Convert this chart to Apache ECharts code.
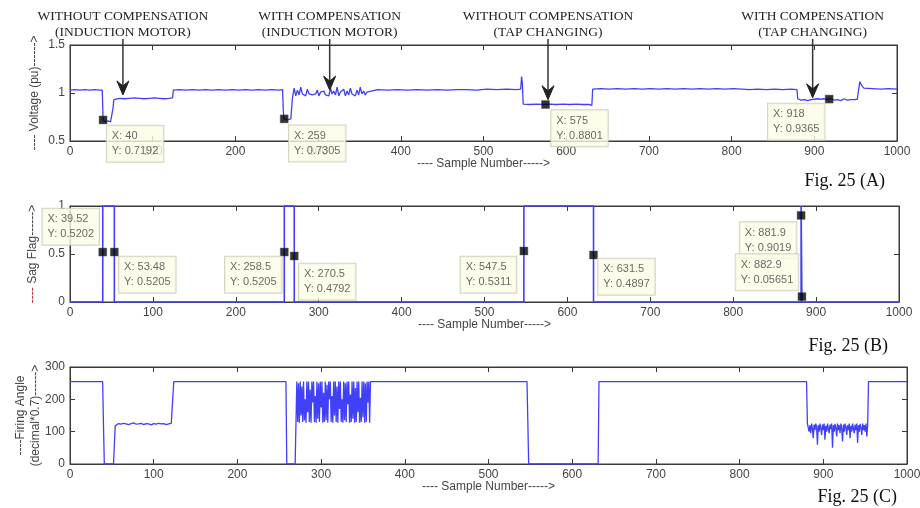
<!DOCTYPE html>
<html>
<head>
<meta charset="utf-8">
<script src="https://cdn.jsdelivr.net/npm/echarts@6/dist/echarts.min.js"></script>
<style>
html,body{margin:0;padding:0;background:#fff;}
#chart{width:920px;height:508px;}
</style>
</head>
<body>
<div id="chart"></div>
<script>
// ---------- DATA ----------
const sampleMin = 0, sampleMax = 1000, sampleStep = 100;
const voltageTicks = [0.5, 1, 1.5];
const sagTicks = [0, 0.5, 1];
const firingTicks = [0, 100, 200, 300];

// Voltage (pu) read from Fig. 25(A)
const voltageSeg1 = [[0,1.03],[6,1.035],[12,1.03],[18,1.035],[24,1.03],[30,1.035],[36,1.03],[39,1.03],
  [40,0.72],[43,0.70],[46,0.71],[49,0.70],[51,0.72],[52,0.84],[53,0.93],[55,0.94],[60,0.945],[66,0.94],
  [72,0.945],[78,0.95],[84,0.945],[90,0.94],[96,0.945],[102,0.95],[108,0.945],[114,0.94],[120,0.945],[124,0.95],
  [125,1.03],[132,1.035],[140,1.03],[148,1.035],[156,1.03],[164,1.035],[172,1.03],[180,1.035],[188,1.03],
  [196,1.035],[204,1.03],[212,1.035],[220,1.03],[228,1.035],[236,1.03],[244,1.035],[252,1.03],[257,1.035],
  [258,0.80],[259,0.73],[263,0.72],[267,0.73],[269,0.95]];
const voltageNoiseIMStart = 271;   // every 2 samples
const voltageNoiseIM = [1.05,0.97,1.03,0.98,1.06,0.99,1.00,0.97,1.04,0.99,1.01,0.98,1.00,0.99,1.03,0.97,
  1.01,0.99,1.02,0.98,1.00,0.97,1.05,0.99,1.02,0.98,1.06,0.97,1.01,0.99,1.04,0.97,1.02,0.98,1.05,0.99,
  1.01,0.97,1.03,0.98,1.06,0.99,1.02,0.98,1.01];
const voltageSeg2 = [[360,1.03],[372,1.035],[384,1.03],[396,1.035],[408,1.03],[420,1.035],[432,1.03],
  [444,1.035],[456,1.03],[468,1.035],[480,1.035],[492,1.03],[504,1.04],[516,1.035],[528,1.04],[540,1.035],
  [545,1.04],[546,1.17],[547,1.10],[548,0.885],[556,0.88],[564,0.885],[572,0.88],[580,0.885],[588,0.88],
  [596,0.885],[604,0.88],[612,0.885],[620,0.88],[628,0.88],[630,0.86],[631,0.87],
  [632,1.04],[642,1.045],[652,1.04],[662,1.045],[672,1.04],[682,1.045],[692,1.04],[702,1.045],[712,1.04],
  [722,1.045],[732,1.04],[742,1.045],[752,1.04],[762,1.045],[772,1.04],[782,1.045],[792,1.04],[802,1.045],
  [812,1.04],[822,1.035],[832,1.04],[842,1.035],[852,1.04],[862,1.035],[872,1.04],[879,1.035],[880,0.94]];
const voltageNoiseTCStart = 882;   // every 2 samples
const voltageNoiseTC = [0.93,0.925,0.94,0.93,0.935,0.92,0.94,0.93,0.925,0.935,0.93,0.94,0.92,0.935,0.93,
  0.94,0.925,0.93,0.935,0.945,0.93,0.925,0.94,0.93,0.935,0.92,0.93,0.94,0.93,0.925,0.935,0.93,0.94,0.93,
  0.925,0.935,0.93];
const voltageSeg3 = [[955,1.12],[957,1.08],[960,1.05],[970,1.045],[980,1.04],[990,1.045],[1000,1.04]];

// Sag flag read from Fig. 25(B)
const sagFlag = [[0,0],[39.5,0],[39.52,1],[53.48,1],[53.5,0],[258.5,0],[258.52,1],[270.5,1],[270.52,0],
  [547.5,0],[547.52,1],[631.5,1],[631.52,0],[881.9,0],[881.92,1],[882.9,1],[882.92,0],[1000,0]];

// Firing angle read from Fig. 25(C)
const firingSeg1 = [[0,255],[39,255],[40,120],[41,0],[52,0],[53,60],[54,118]];
const firingNoise1Start = 55;  // every 3 samples
const firingNoise1 = [122,125,123,126,124,122,125,127,123,124,126,122,125,124,121,125,123,126,124,125,122,124,126];
const firingSeg2 = [[123,125],[124,255],[258,255],[259,0],[269,0],[270,130]];
const firingNoiseIMStart = 271; // every sample
const firingNoiseIM = [255,130,250,128,255,150,240,130,255,135,200,128,255,160,255,130,230,128,255,190,
  255,130,210,128,255,140,250,130,255,175,255,128,220,130,255,135,245,128,255,200,255,130,210,128,255,
  150,255,130,240,128,255,170,255,130,200,128,255,135,250,130,255,185,255,128,215,130,255,140,255,128,
  235,130,255,160,255,128,205,130,255,145,255,128,250,130,255,190,255,128];
const firingSeg3 = [[359,255],[546,255],[547,130],[548,0],[631,0],[632,255],[880,255],[881,125]];
const firingNoiseTCStart = 882; // every sample
const firingNoiseTC = [125,100,120,95,125,110,80,122,105,125,115,60,120,100,125,110,90,123,105,125,75,
  118,100,125,110,95,122,108,125,50,120,100,124,112,85,125,105,120,95,125,110,70,122,100,125,115,90,120,
  105,125,80,118,100,125,110,95,122,105,125,65,120,100,124,112,90,125,105,120,100,125,85,118];
const firingSeg4 = [[954,255],[1000,255]];

// Data tips
const voltageTips = [[40,0.7192],[259,0.7305],[575,0.8801],[918,0.9365]];
const sagTips = [[39.52,0.5202],[53.48,0.5205],[258.5,0.5205],[270.5,0.4792],[547.5,0.5311],[631.5,0.4897],[881.9,0.9019],[882.9,0.05651]];

// Annotations
const annotationTitles = [
  ['WITHOUT COMPENSATION','(INDUCTION MOTOR)'],
  ['WITH COMPENSATION','(INDUCTION MOTOR)'],
  ['WITHOUT COMPENSATION','(TAP CHANGING)'],
  ['WITH COMPENSATION','(TAP CHANGING)']
];
const annotationSamples = [64, 314, 578, 898];
const annotationTipVoltage = [0.98, 1.03, 0.93, 0.95];

// ---------- STYLE (positions of tip boxes relative to marker) ----------
const voltageTipBoxOffset = [[4,6],[5,7],[6,6],[-61,5]];
const sagTipBoxOffset = [[-60,-43],[5,5],[-59,5],[5,8],[-63,6],[5,4],[-61,7],[-66,-42]];

function withNoise(start, step, values){
  return values.map((v,i)=>[start + i*step, v]);
}
const voltageData = [].concat(voltageSeg1, withNoise(voltageNoiseIMStart,2,voltageNoiseIM), voltageSeg2,
  withNoise(voltageNoiseTCStart,2,voltageNoiseTC), voltageSeg3);
const firingData = [].concat(firingSeg1, withNoise(firingNoise1Start,3,firingNoise1), firingSeg2,
  withNoise(firingNoiseIMStart,1,firingNoiseIM), firingSeg3, withNoise(firingNoiseTCStart,1,firingNoiseTC), firingSeg4);

const LINE = '#4040f8';
const AX = '#3a3a3a';
const TXT = '#444';
const SANS = '"Liberation Sans", Arial, sans-serif';
const SERIF = '"Liberation Serif", "Times New Roman", serif';

const grids = [
  {left:70, top:45, width:827, height:96},
  {left:70, top:206, width:829, height:96},
  {left:70, top:367, width:837, height:97}
];
const yTickSets = [voltageTicks, sagTicks, firingTicks];
const yNames = [
  '---- Voltage (pu)------>',
  '{r|----} Sag Flag------>',
  '----Firing Angle\n(decimal*0.7)------>'
];
const yGaps = [28, 30, 27];
const plain = v => String(v);

const xAxes = [], yAxes = [];
grids.forEach((g, i) => {
  xAxes.push({
    gridIndex:i, type:'value', min:sampleMin, max:sampleMax, interval:sampleStep, position:'bottom', z:0,
    axisLine:{show:true, onZero:false, lineStyle:{color:AX}},
    axisTick:{show:true, inside:true, length:5, lineStyle:{color:AX}},
    axisLabel:{color:TXT, fontFamily:SANS, fontSize:12, margin:5, formatter:plain},
    splitLine:{show:false},
    name:'---- Sample Number----->', nameLocation:'middle', nameGap:17, nameMoveOverlap:false,
    nameTextStyle:{color:TXT, fontFamily:SANS, fontSize:12}
  });
  xAxes.push({
    gridIndex:i, type:'value', min:sampleMin, max:sampleMax, interval:sampleStep, position:'top', z:0,
    axisLine:{show:true, onZero:false, lineStyle:{color:AX}},
    axisTick:{show:true, inside:true, length:5, lineStyle:{color:AX}},
    axisLabel:{show:false}, splitLine:{show:false}
  });
  const t = yTickSets[i];
  yAxes.push({
    gridIndex:i, type:'value', min:t[0], max:t[t.length-1], interval:t[1]-t[0], position:'left', z:0,
    axisLine:{show:true, onZero:false, lineStyle:{color:AX}},
    axisTick:{show:true, inside:true, length:5, lineStyle:{color:AX}},
    axisLabel:{color:TXT, fontFamily:SANS, fontSize:12, margin:5, formatter:plain},
    splitLine:{show:false},
    name:yNames[i], nameLocation:'middle', nameGap:yGaps[i], nameRotate:90, nameMoveOverlap:false,
    nameTextStyle:{color:TXT, fontFamily:SANS, fontSize:12, lineHeight:15,
      rich:{r:{color:'#a03030', fontFamily:SANS, fontSize:12}}}
  });
  yAxes.push({
    gridIndex:i, type:'value', min:t[0], max:t[t.length-1], interval:t[1]-t[0], position:'right', z:0,
    axisLine:{show:true, onZero:false, lineStyle:{color:AX}},
    axisTick:{show:true, inside:true, length:5, lineStyle:{color:AX}},
    axisLabel:{show:false}, splitLine:{show:false}
  });
});

function tipSeries(points, offsets, xi, yi){
  return {
    type:'scatter', xAxisIndex:xi, yAxisIndex:yi, symbol:'rect', symbolSize:8, z:20, zlevel:1,
    itemStyle:{color:'#000', borderColor:'#555', borderWidth:0.5},
    clip:false, silent:true,
    data: points.map((p, k) => ({
      value:p,
      label:{position:[offsets[k][0]+4, offsets[k][1]+4]}
    })),
    label:{
      show:true, align:'left', verticalAlign:'top',
      formatter:(p)=>'X: ' + p.value[0] + '\nY: ' + p.value[1],
      backgroundColor:'#fdfde6', borderColor:'#c8c8b8', borderWidth:1,
      padding:[3,5,3,5], color:TXT, fontFamily:SANS, fontSize:11, lineHeight:15
    }
  };
}

const option = {
  animation:false,
  backgroundColor:'#fff',
  grid: grids.map(g => Object.assign({show:true, borderColor:AX, borderWidth:1, backgroundColor:'#fff',
    containLabel:false, outerBoundsMode:'none'}, g)),
  xAxis: xAxes,
  yAxis: yAxes,
  title: [
    {text:'Fig. 25 (A)', right:30, top:167, textStyle:{fontFamily:SERIF, fontSize:18, fontWeight:'normal', color:'#111'}},
    {text:'Fig. 25 (B)', right:27, top:332, textStyle:{fontFamily:SERIF, fontSize:18, fontWeight:'normal', color:'#111'}},
    {text:'Fig. 25 (C)', right:18, top:483, textStyle:{fontFamily:SERIF, fontSize:18, fontWeight:'normal', color:'#111'}}
  ],
  series: [
    {type:'line', xAxisIndex:0, yAxisIndex:0, data:voltageData, showSymbol:false, symbol:'none',
      lineStyle:{color:LINE, width:1.3}, silent:true},
    {type:'line', xAxisIndex:2, yAxisIndex:2, data:sagFlag, showSymbol:false, symbol:'none', clip:false,
      lineStyle:{color:LINE, width:1.6}, silent:true},
    {type:'line', xAxisIndex:4, yAxisIndex:4, data:firingData, showSymbol:false, symbol:'none',
      lineStyle:{color:LINE, width:1.3}, silent:true},
    tipSeries(voltageTips, voltageTipBoxOffset, 0, 0),
    tipSeries(sagTips, sagTipBoxOffset, 2, 2)
  ]
};

const chart = echarts.init(document.getElementById('chart'), null, {renderer:'canvas'});
chart.setOption(option);

// annotations: text + arrows positioned through the voltage axes
const graphics = [];
annotationSamples.forEach((s, i) => {
  const tip = chart.convertToPixel({seriesIndex:0}, [s, annotationTipVoltage[i]]);
  const x = tip[0], ty = tip[1];
  graphics.push({type:'text', x:x, y:16, z:10,
    style:{text:annotationTitles[i][0], font:'13.5px ' + SERIF, fill:'#222', textAlign:'center', textVerticalAlign:'middle'}});
  graphics.push({type:'text', x:x, y:32, z:10,
    style:{text:annotationTitles[i][1], font:'13.5px ' + SERIF, fill:'#222', textAlign:'center', textVerticalAlign:'middle'}});
  graphics.push({type:'line', z:10, shape:{x1:x, y1:39, x2:x, y2:ty-4}, style:{stroke:'#333', lineWidth:1.5}});
  graphics.push({type:'polygon', z:10, shape:{points:[[x,ty],[x-6,ty-14],[x,ty-9],[x+6,ty-14]]},
    style:{fill:'#222', stroke:'#222', lineWidth:1}});
});
chart.setOption({graphic: graphics});
</script>
</body>
</html>
